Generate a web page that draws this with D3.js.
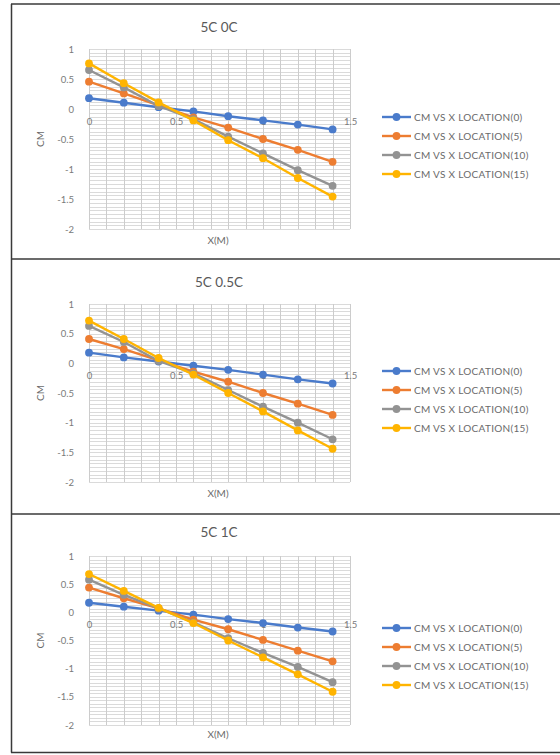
<!DOCTYPE html>
<html>
<head>
<meta charset="utf-8">
<script src="https://cdn.jsdelivr.net/npm/d3@7"></script>
<style>
  html, body { margin: 0; padding: 0; background: #fff; }
  svg { display: block; }
  text { font-family: Lato, "Open Sans", "Liberation Sans", sans-serif; }
</style>
</head>
<body>
<svg id="chart" width="560" height="755"></svg>
<script>
// ---- data ----
const panelTitles = ["5C 0C", "5C 0.5C", "5C 1C"];
const seriesNames = ["CM VS X LOCATION(0)", "CM VS X LOCATION(5)", "CM VS X LOCATION(10)", "CM VS X LOCATION(15)"];
const xValues = [0, 0.2, 0.4, 0.6, 0.8, 1.0, 1.2, 1.4];
const xTicks = [0, 0.5, 1, 1.5];
const yTicks = [1, 0.5, 0, -0.5, -1, -1.5, -2];

// 5C 0C
const c0_loc0  = [0.18, 0.105, 0.03, -0.04, -0.12, -0.19, -0.26, -0.34];
const c0_loc5  = [0.455, 0.26, 0.06, -0.14, -0.31, -0.50, -0.68, -0.88];
const c0_loc10 = [0.65, 0.36, 0.05, -0.17, -0.46, -0.74, -1.02, -1.28];
const c0_loc15 = [0.76, 0.43, 0.11, -0.19, -0.52, -0.82, -1.15, -1.46];
// 5C 0.5C
const c05_loc0  = [0.18, 0.10, 0.03, -0.04, -0.11, -0.19, -0.27, -0.34];
const c05_loc5  = [0.41, 0.24, 0.05, -0.14, -0.31, -0.50, -0.68, -0.87];
const c05_loc10 = [0.63, 0.36, 0.04, -0.17, -0.45, -0.73, -1.00, -1.28];
const c05_loc15 = [0.72, 0.41, 0.09, -0.19, -0.50, -0.81, -1.13, -1.44];
// 5C 1C
const c1_loc0  = [0.17, 0.10, 0.03, -0.04, -0.12, -0.19, -0.27, -0.34];
const c1_loc5  = [0.44, 0.25, 0.07, -0.13, -0.30, -0.49, -0.68, -0.87];
const c1_loc10 = [0.58, 0.31, 0.07, -0.18, -0.46, -0.72, -0.97, -1.24];
const c1_loc15 = [0.68, 0.38, 0.08, -0.19, -0.50, -0.80, -1.10, -1.41];

const panelSeries = [
  [c0_loc0, c0_loc5, c0_loc10, c0_loc15],
  [c05_loc0, c05_loc5, c05_loc10, c05_loc15],
  [c1_loc0, c1_loc5, c1_loc10, c1_loc15]
];
const colors = ["#4A7BCB", "#ED7D31", "#939393", "#FFB400"];

// ---- layout ----
const layout = [
  {top: 4,   plotTop: 49,  plotBottom: 229, titleY: 32,  xTitleY: 244, legendY: 117},
  {top: 259, plotTop: 304, plotBottom: 482, titleY: 287, xTitleY: 497, legendY: 371},
  {top: 514, plotTop: 556, plotBottom: 725, titleY: 537, xTitleY: 738, legendY: 628}
];

const svg = d3.select("#chart");
const x = d3.scaleLinear().domain([0, 1.5]).range([89, 350]);
const fmt = d => String(d);

// panel borders
svg.append("line").attr("x1", 11.5).attr("x2", 11.5).attr("y1", 4).attr("y2", 752.5)
  .attr("stroke", "#3a3a3a").attr("stroke-width", 1.5);
[4, 259, 514, 752.5].forEach(yy => {
  svg.append("line").attr("x1", 11).attr("x2", 560).attr("y1", yy).attr("y2", yy)
    .attr("stroke", "#3a3a3a").attr("stroke-width", 1.5);
});

layout.forEach((L, pi) => {
  const g = svg.append("g");
  const y = d3.scaleLinear().domain([-2, 1]).range([L.plotBottom, L.plotTop]);

  // horizontal minor gridlines (8 per 0.5 major)
  const hGrid = d3.range(-32, 17).map(v => v / 16);
  g.append("g").selectAll("line").data(hGrid).join("line")
    .attr("x1", x(0)).attr("x2", x(1.5))
    .attr("y1", d => Math.round(y(d)) + 0.5).attr("y2", d => Math.round(y(d)) + 0.5)
    .attr("stroke", "#dadada").attr("stroke-width", 1);
  // vertical gridlines
  const vGrid = d3.range(0, 16).map(v => v / 10);
  g.append("g").selectAll("line").data(vGrid).join("line")
    .attr("x1", d => Math.round(x(d)) + 0.5).attr("x2", d => Math.round(x(d)) + 0.5)
    .attr("y1", y(1)).attr("y2", y(-2))
    .attr("stroke", "#cccccc").attr("stroke-width", 1);

  // y axis labels
  const yAxis = d3.axisLeft(y).tickValues(yTicks).tickSize(0).tickPadding(15).tickFormat(fmt);
  const ya = g.append("g").attr("transform", `translate(${x(0)},0)`).call(yAxis);
  ya.select(".domain").remove();
  ya.selectAll("text").attr("fill", "#7a7a7a").attr("font-size", 9.5);

  // x axis labels (axis crosses at 0)
  const xAxis = d3.axisBottom(x).tickValues(xTicks).tickSize(0).tickPadding(9).tickFormat(fmt);
  const xa = g.append("g").attr("transform", `translate(0,${y(0)})`).call(xAxis);
  xa.select(".domain").remove();
  xa.selectAll("text").attr("fill", "#7a7a7a").attr("font-size", 9.5);

  // title
  g.append("text").attr("x", 219).attr("y", L.titleY).attr("text-anchor", "middle")
    .attr("font-size", 13.5).attr("fill", "#595959").text(panelTitles[pi]);
  // axis titles
  g.append("text").attr("x", 218).attr("y", L.xTitleY).attr("text-anchor", "middle")
    .attr("font-size", 10).attr("fill", "#6a6a6a").text("X(M)");
  const cy = (L.plotTop + L.plotBottom) / 2;
  g.append("text").attr("transform", `translate(44,${cy}) rotate(-90)`).attr("text-anchor", "middle")
    .attr("font-size", 10).attr("fill", "#6a6a6a").text("CM");

  // series
  const line = d3.line().x((d, i) => x(xValues[i])).y(d => y(d));
  panelSeries[pi].forEach((vals, si) => {
    const sg = g.append("g");
    sg.append("path").datum(vals).attr("d", line).attr("fill", "none")
      .attr("stroke", colors[si]).attr("stroke-width", 2.4);
    sg.selectAll("circle").data(vals).join("circle")
      .attr("cx", (d, i) => x(xValues[i])).attr("cy", d => y(d)).attr("r", 3.9)
      .attr("fill", colors[si]);
  });

  // legend
  const lg = g.append("g");
  seriesNames.forEach((name, si) => {
    const ly = L.legendY + si * 19;
    lg.append("line").attr("x1", 382).attr("x2", 411).attr("y1", ly).attr("y2", ly)
      .attr("stroke", colors[si]).attr("stroke-width", 2.4);
    lg.append("circle").attr("cx", 396.5).attr("cy", ly).attr("r", 3.9).attr("fill", colors[si]);
    lg.append("text").attr("x", 414).attr("y", ly).attr("dy", "0.35em")
      .attr("font-size", 10).attr("letter-spacing", 0.3).attr("fill", "#6a6a6a").text(name);
  });
});
</script>
</body>
</html>
